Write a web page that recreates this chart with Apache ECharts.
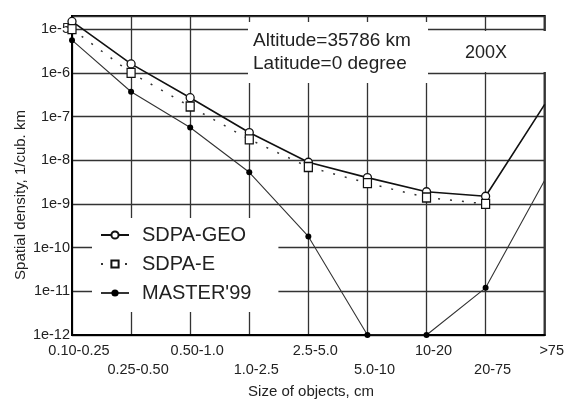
<!DOCTYPE html>
<html>
<head>
<meta charset="utf-8">
<script src="https://cdn.jsdelivr.net/npm/echarts@6/dist/echarts.min.js"></script>
<style>
html,body{margin:0;padding:0;background:#fff;}
#c{width:567px;height:407px;}
</style>
</head>
<body>
<div id="c"></div>
<script>
const categories = ['0.10-0.25','0.25-0.50','0.50-1.0','1.0-2.5','2.5-5.0','5.0-10','10-20','20-75','>75'];
const sdpaGeo = [1.5e-5, 1.6e-6, 2.7e-7, 4.3e-8, 9.0e-9, 4.0e-9, 1.9e-9, 1.5e-9, 1.9e-7];
const sdpaE   = [1.0e-5, 1.0e-6, 1.7e-7, 3.0e-8, 7.0e-9, 3.0e-9, 1.4e-9, 1.0e-9, null];
const master99 = [5.6e-6, 3.7e-7, 5.6e-8, 5.3e-9, 1.8e-10, 1e-12, 1e-12, 1.2e-11, 3.5e-9];
const yTickExponents = [-12, -11, -10, -9, -8, -7, -6, -5];

const FONT = 'Liberation Sans, Arial, sans-serif';
const chart = echarts.init(document.getElementById('c'));

function hideLast(arr){
  return arr.map((v,i)=> i===arr.length-1 ? {value:v, symbol:'none'} : v);
}

chart.setOption({
  backgroundColor:'#fff',
  animation:false,
  grid:{left:72, top:16, right:19, bottom:72, show:true, borderColor:'#000', borderWidth:2},
  xAxis:{
    type:'category', data:categories, boundaryGap:false,
    axisLine:{lineStyle:{color:'#000', width:2}},
    axisTick:{show:false},
    splitLine:{show:true, lineStyle:{color:'#333', width:1.3}},
    axisLabel:{
      interval:0, fontFamily:FONT, fontSize:14.5, color:'#222', margin:6,
      lineHeight:19, padding:[0,0,0,14], verticalAlign:'top',
      formatter:(v,i)=> i%2 ? '\n'+v : v
    }
  },
  yAxis:{
    type:'log', logBase:10, min:1e-12, max:2e-5, interval:1,
    axisLine:{show:true, lineStyle:{color:'#000', width:2}},
    axisTick:{show:false},
    splitLine:{show:true, lineStyle:{color:'#333', width:1.3}},
    axisLabel:{
      fontFamily:FONT, fontSize:14.5, color:'#222', margin:2,
      formatter:(v)=>{
        const e = Math.log10(v);
        const r = Math.round(e);
        if (Math.abs(e-r) > 1e-6 || yTickExponents.indexOf(r) < 0) return '';
        return '1e' + r;
      }
    }
  },
  legend:{
    orient:'vertical', left:92, top:218,
    backgroundColor:'#fff', padding:[7,27,9,8],
    itemWidth:28, itemHeight:9, itemGap:9,
    textStyle:{fontFamily:FONT, fontSize:20, color:'#222', lineHeight:20, padding:[0,0,0,8]},
    data:['SDPA-GEO','SDPA-E',"MASTER'99"]
  },
  graphic:[
    {type:'rect', z:1, shape:{x:248, y:22, width:180, height:61}, style:{fill:'#fff'}},
    {type:'text', z:1, left:253, top:31, style:{text:'Altitude=35786 km', font:'19px '+FONT, fill:'#222'}},
    {type:'text', z:1, left:253, top:54, style:{text:'Latitude=0 degree', font:'19px '+FONT, fill:'#222'}},
    {type:'rect', z:1, shape:{x:432, y:31, width:115, height:41}, style:{fill:'#fff'}},
    {type:'text', z:1, x:486, y:53, style:{text:'200X', font:'18px '+FONT, fill:'#222', align:'center', verticalAlign:'middle'}},
    {type:'text', z:1, x:21, y:195, rotation:Math.PI/2, style:{text:'Spatial density, 1/cub. km', font:'15px '+FONT, fill:'#222', align:'center', verticalAlign:'middle'}},
    {type:'text', z:1, x:311, y:392, style:{text:'Size of objects, cm', font:'15px '+FONT, fill:'#222', align:'center', verticalAlign:'middle'}}
  ],
  series:[
    {name:'SDPA-GEO', type:'line', data:hideLast(sdpaGeo), symbol:'circle', symbolSize:8,
     lineStyle:{color:'#111', width:1.6}, itemStyle:{color:'#fff', borderColor:'#111', borderWidth:1.3}, z:3},
    {name:'SDPA-E', type:'line', data:sdpaE, symbol:'rect', symbolSize:[8,9],
     lineStyle:{color:'#333', width:1.5, type:[2,10]}, itemStyle:{color:'#fff', borderColor:'#111', borderWidth:1.3}, z:4},
    {name:"MASTER'99", type:'line', data:hideLast(master99), symbol:'circle', symbolSize:6,
     lineStyle:{color:'#333', width:1.1}, itemStyle:{color:'#000'}, z:3}
  ]
});
</script>
</body>
</html>
